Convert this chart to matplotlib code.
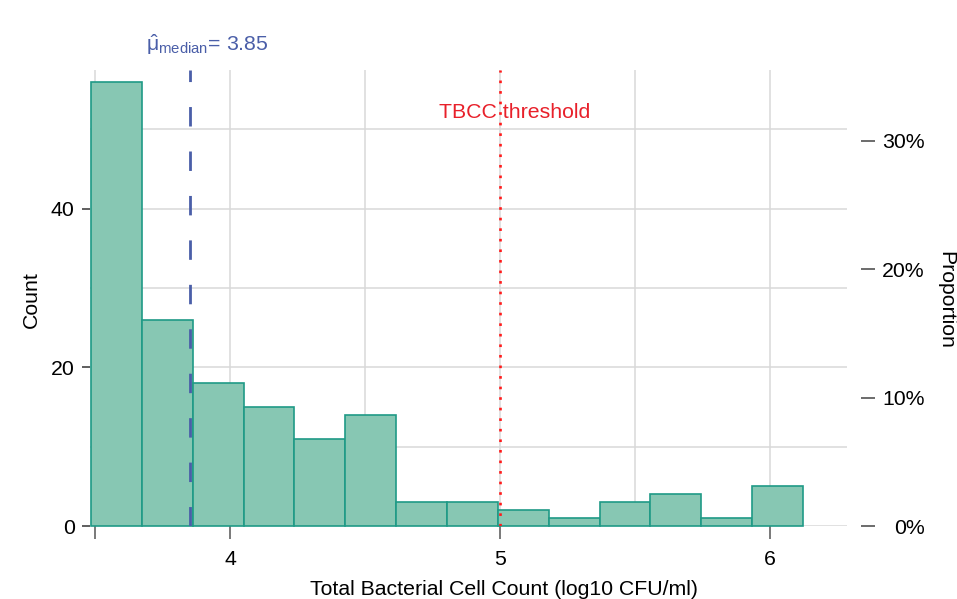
import numpy as np
import matplotlib.pyplot as plt
from matplotlib.ticker import FuncFormatter

plt.rcParams['font.family'] = ['Liberation Sans', 'DejaVu Sans']
plt.rcParams['mathtext.fontset'] = 'custom'
plt.rcParams['mathtext.rm'] = 'Liberation Sans'
plt.rcParams['mathtext.it'] = 'Liberation Sans'

# --- data ---
bin_start = 3.4835
bin_width = 0.1886
counts = [56, 26, 18, 15, 11, 14, 3, 3, 2, 1, 3, 4, 1, 5]
median_log = 3.85
tbcc_threshold = 5.0

x_ticks = [3.5, 4, 5, 6]
x_ticklabels = ['', '4', '5', '6']
x_grid = [3.5, 4, 4.5, 5, 5.5, 6]
y_ticks = [0, 20, 40]
y_grid = [0, 10, 20, 30, 40, 50]
prop_ticks = [0, 0.1, 0.2, 0.3]

fill_col = '#87c7b3'
edge_col = '#1f9a86'
grid_col = '#d9d9d9'
fs = 15.3

fig = plt.figure(figsize=(9.57, 5.99), dpi=100)
ax = fig.add_axes([90 / 957, 73 / 599, (847 - 90) / 957, (526 - 70) / 599])

edges = bin_start + bin_width * np.arange(len(counts))
ax.bar(edges, counts, width=bin_width, align='edge', color=fill_col,
       edgecolor=edge_col, linewidth=1.2, zorder=2, clip_on=False)

for gx in x_grid:
    ax.axvline(gx, color=grid_col, lw=1.1, zorder=0)
for gy in y_grid:
    ax.axhline(gy, color=grid_col, lw=1.1, zorder=0)

ax.set_xlim(3.4798, 6.287)
ax.set_ylim(0, 57.5)

# median and threshold lines
ax.axvline(median_log, color='#4a5ea8', lw=2.0, ls=(0, (7, 9)), zorder=3)
ax.axvline(tbcc_threshold, color='#ff1a1a', lw=1.9, ls=(0, (1, 3)), zorder=3)
ax.text(5.056, 52.1, 'TBCC threshold', color='#e8202a', fontsize=fs,
        ha='center', va='center', zorder=4)
ax.text(3.687, 1.042, r'$\hat{\mu}_{\mathrm{median}}$= ' + f'{median_log:.2f}',
        transform=ax.get_xaxis_transform(), color='#4a5ea8', fontsize=fs,
        ha='left', va='baseline')

for s in ax.spines.values():
    s.set_visible(False)

ax.set_xticks(x_ticks)
ax.set_xticklabels(x_ticklabels)
ax.set_yticks(y_ticks)
ax.tick_params(axis='x', direction='out', length=9, width=1.1, color='#555555',
               labelsize=fs, pad=8)
ax.tick_params(axis='y', direction='out', length=6, width=1.1, color='#333333',
               labelsize=fs, pad=5)
fig.text(504.5 / 957, 1 - 595 / 599, 'Total Bacterial Cell Count (log10 CFU/ml)',
         fontsize=fs, ha='center', va='baseline')
fig.text(31 / 957, 0.5, 'Count', rotation=90, fontsize=fs, ha='center', va='center')

# secondary axis: proportion of all samples
total = sum(counts)
ax2 = ax.twinx()
ax2.set_ylim(0, 57.5 / total)
for s in ax2.spines.values():
    s.set_visible(False)
ax2.spines['right'].set_position(('outward', 10))
ax2.set_yticks(prop_ticks)
ax2.yaxis.set_major_formatter(FuncFormatter(lambda v, p: f'{v * 100:.0f}%'))
ax2.tick_params(axis='y', direction='out', length=10, width=1.1, color='#444444',
                labelsize=fs, pad=36)
for lbl in ax2.get_yticklabels():
    lbl.set_horizontalalignment('right')
fig.text(946 / 957, 0.5, 'Proportion', rotation=270, fontsize=fs,
         ha='center', va='center')

fig.savefig('out.png', dpi=100)
